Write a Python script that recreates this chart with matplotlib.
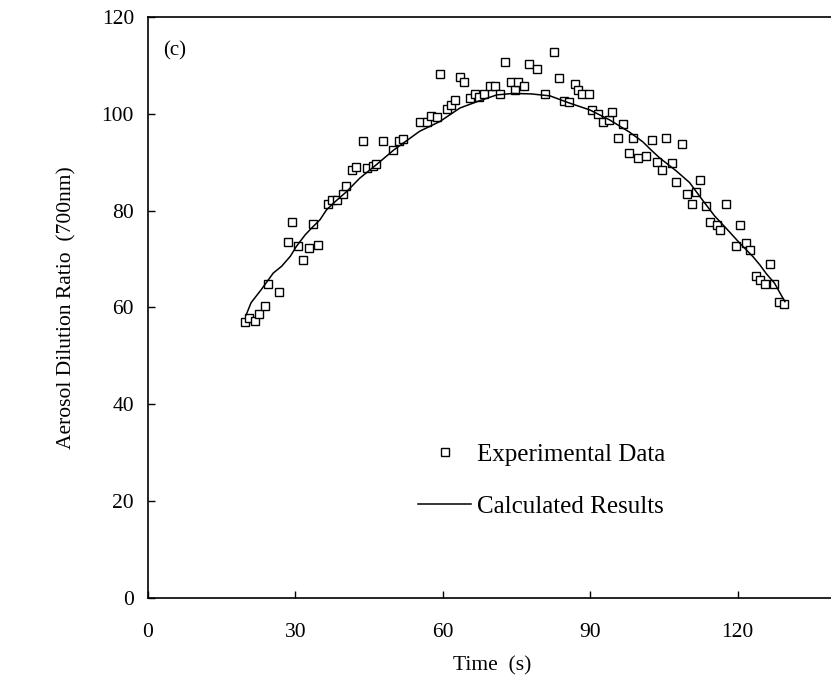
import matplotlib
matplotlib.use("Agg")
import matplotlib.pyplot as plt

exp_time = [19.7, 20.5, 21.7, 22.5, 23.8, 24.5, 26.6, 28.6, 29.4, 30.6,
            31.5, 32.7, 33.5, 34.7, 36.7, 37.5, 38.4, 39.6, 40.4, 41.6,
            42.4, 43.7, 44.5, 45.7, 46.5, 47.9, 49.8, 51.0, 51.9, 55.3,
            56.7, 57.5, 58.8, 59.5, 60.9, 61.6, 62.4, 63.6, 64.3, 65.6,
            66.5, 67.4, 68.4, 69.7, 70.6, 71.6, 72.6, 73.8, 74.6, 75.3,
            76.6, 77.5, 79.2, 80.7, 82.6, 83.6, 84.6, 85.6, 86.8, 87.6,
            88.3, 89.8, 90.4, 91.6, 92.5, 93.8, 94.5, 95.6, 96.7, 97.8,
            98.6, 99.7, 101.4, 102.6, 103.5, 104.7, 105.5, 106.7, 107.5, 108.7,
            109.6, 110.8, 111.6, 112.4, 113.6, 114.3, 115.8, 116.5, 117.7, 119.7,
            120.5, 121.7, 122.6, 123.8, 124.6, 125.5, 126.6, 127.3, 128.5, 129.5]
exp_ratio = [57.0, 57.8, 57.3, 58.7, 60.3, 64.8, 63.1, 73.5, 77.6, 72.7,
             69.7, 72.2, 77.2, 73.0, 81.4, 82.1, 82.1, 83.4, 85.1, 88.4,
             89.1, 94.4, 88.7, 89.2, 89.6, 94.4, 92.6, 94.3, 94.8, 98.4,
             98.2, 99.6, 99.4, 108.2, 101.0, 101.8, 102.9, 107.5, 106.6, 103.3,
             104.1, 103.4, 104.1, 105.8, 105.8, 104.1, 110.6, 106.6, 104.9, 106.6,
             105.8, 110.3, 109.3, 104.1, 112.7, 107.3, 102.7, 102.4, 106.2, 104.9,
             104.1, 104.1, 100.8, 100.0, 98.3, 98.8, 100.4, 94.9, 97.8, 92.0,
             94.9, 90.9, 91.3, 94.6, 90.1, 88.4, 94.9, 89.9, 86.0, 93.7,
             83.4, 81.3, 83.8, 86.3, 80.9, 77.6, 77.1, 75.9, 81.3, 72.6,
             77.1, 73.3, 71.9, 66.5, 65.7, 64.8, 69.0, 64.8, 61.1, 60.7]

# Calculated results
calc_time = [20.0, 21.0, 23.0, 25.5, 27.2, 29.0, 30.2, 32.0, 33.6, 35.0,
             36.3, 37.7, 40.4, 43.1, 46.5, 50.0, 55.3, 59.4, 63.5, 67.5,
             71.0, 74.3, 78.0, 81.8, 85.8, 89.9, 94.0, 98.0, 100.7, 102.3,
             104.1, 107.5, 110.2, 112.6, 115.3, 117.7, 120.4, 123.1, 124.5, 125.8,
             127.5, 129.6]
calc_ratio = [58.5, 61.0, 63.6, 67.1, 68.5, 70.6, 72.6, 75.0, 76.7, 78.1,
              80.1, 81.5, 83.9, 86.7, 89.5, 92.5, 96.4, 98.4, 101.2, 102.7,
              103.9, 104.2, 104.1, 103.7, 102.2, 100.8, 98.7, 96.2, 94.2, 92.6,
              90.9, 88.2, 85.8, 82.5, 78.9, 76.3, 73.3, 70.5, 68.8, 67.0,
              65.0, 61.2]

plt.rcParams["font.family"] = ["Liberation Serif", "DejaVu Serif"]
plt.rcParams["font.size"] = 15.5

fig = plt.figure(figsize=(8.31, 6.83), dpi=100)
ax = fig.add_axes([0.178, 0.1245, 0.828, 0.8507])

ax.plot(exp_time, exp_ratio, "s", mfc="white", mec="black", ms=6, mew=1.0,
        color="black", label="Experimental Data")
ax.plot(calc_time, calc_ratio, "-", color="black", lw=1.1, label="Calculated Results")

ax.set_xlim(0, 140)
ax.set_ylim(0, 120)
ax.set_xticks([0, 30, 60, 90, 120])
ax.set_yticks([0, 20, 40, 60, 80, 100, 120])
ax.tick_params(direction="in", length=5, width=1.0, color="black", labelsize=15.5)
ax.tick_params(axis="x", pad=18)
ax.tick_params(axis="y", pad=10)
for sp in ax.spines.values():
    sp.set_linewidth(1.2)

ax.set_xlabel("Time  (s)", labelpad=10)
ax.set_ylabel("Aerosol Dilution Ratio  (700nm)", labelpad=18)

ax.text(3, 113, "(c)", va="center", ha="left", fontsize=15)

ax.legend(loc="center left", bbox_to_anchor=(0.392, 0.202), frameon=False,
          fontsize=18, handlelength=2.15, handletextpad=0.24, labelspacing=1.2,
          borderpad=0, borderaxespad=0)

fig.savefig("out.png", dpi=100)
